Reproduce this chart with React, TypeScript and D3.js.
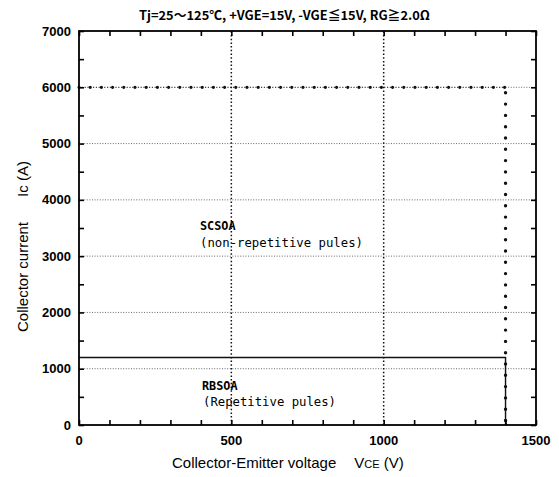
import * as d3 from "d3";
import { useEffect, useRef } from "react";

// axis ticks
const xMajor = [0, 500, 1000, 1500];
const yMajor = [0, 1000, 2000, 3000, 4000, 5000, 6000, 7000];
const xGrid = [500, 1000];
const yGrid = [1000, 2000, 3000, 4000, 5000];

// safe operating area boundaries (VCE in V, Ic in A)
const scsoaV = [0, 1400, 1400];
const scsoaI = [6000, 6000, 0];
const rbsoaV = [0, 1400, 1400];
const rbsoaI = [1200, 1200, 0];

const title = "Tj=25～125℃, +VGE=15V, -VGE≦15V, RG≧2.0Ω";

export default function App() {
    const ref = useRef<SVGSVGElement | null>(null);
    const width = 559;
    const height = 477;

    useEffect(() => {
        if (!ref.current) return;
        const svg = d3.select(ref.current);
        svg.selectAll("*").remove();

        const left = 79, right = 536, top = 31, bottom = 425;
        const x = d3.scaleLinear().domain([0, 1500]).range([left, right]);
        const y = d3.scaleLinear().domain([0, 7000]).range([bottom, top]);

        svg.append("rect").attr("width", width).attr("height", height).attr("fill", "#fff");

        // grid
        yGrid.forEach(v => {
            svg.append("line")
                .attr("x1", x(0)).attr("x2", x(1500))
                .attr("y1", y(v)).attr("y2", y(v))
                .attr("stroke", "#444").attr("stroke-width", 0.8)
                .attr("stroke-dasharray", "1 1.6");
        });
        xGrid.forEach(v => {
            svg.append("line")
                .attr("x1", x(v)).attr("x2", x(v))
                .attr("y1", y(0)).attr("y2", y(7000))
                .attr("stroke", "#111").attr("stroke-width", 1.5)
                .attr("stroke-dasharray", "1.5 2.2");
        });
        // 6000 grid beyond SCSOA corner
        svg.append("line")
            .attr("x1", x(scsoaV[1])).attr("x2", x(1500))
            .attr("y1", y(6000)).attr("y2", y(6000))
            .attr("stroke", "#444").attr("stroke-width", 0.8)
            .attr("stroke-dasharray", "1 1.6");

        // SCSOA: dash-dot horizontal, big dots vertical
        svg.append("line")
            .attr("x1", x(scsoaV[0])).attr("x2", x(scsoaV[1]))
            .attr("y1", y(scsoaI[0])).attr("y2", y(scsoaI[1]))
            .attr("stroke", "#111").attr("stroke-width", 1)
            .attr("stroke-dasharray", "1.2 1.6");
        svg.append("line")
            .attr("x1", x(scsoaV[0])).attr("x2", x(scsoaV[1]))
            .attr("y1", y(scsoaI[0])).attr("y2", y(scsoaI[1]))
            .attr("stroke", "#111").attr("stroke-width", 3.2)
            .attr("stroke-linecap", "round")
            .attr("stroke-dasharray", "0 11.2");
        svg.append("line")
            .attr("x1", x(scsoaV[1])).attr("x2", x(scsoaV[2]))
            .attr("y1", y(scsoaI[1]) + 5.5).attr("y2", y(scsoaI[2]))
            .attr("stroke", "#111").attr("stroke-width", 3.4)
            .attr("stroke-linecap", "round")
            .attr("stroke-dasharray", "0 11.3");

        // RBSOA solid
        const line = d3.line<number>()
            .x((_, i) => x(rbsoaV[i]))
            .y(d => y(d));
        svg.append("path")
            .attr("d", line(rbsoaI)!)
            .attr("fill", "none")
            .attr("stroke", "#111")
            .attr("stroke-width", 1.4);

        // ticks (inward)
        const bottomAxis = d3.axisBottom(x).tickValues(d3.range(0, 1501, 100)).tickSize(-5).tickFormat(() => "");
        const topAxis = d3.axisTop(x).tickValues(d3.range(0, 1501, 100)).tickSize(-5).tickFormat(() => "");
        const leftAxis = d3.axisLeft(y).tickValues(d3.range(0, 7001, 500)).tickSize(-5).tickFormat(() => "");
        const rightAxis = d3.axisRight(y).tickValues(d3.range(0, 7001, 500)).tickSize(-5).tickFormat(() => "");
        [
            [bottomAxis, `translate(0,${bottom})`],
            [topAxis, `translate(0,${top})`],
            [leftAxis, `translate(${left},0)`],
            [rightAxis, `translate(${right},0)`],
        ].forEach(([ax, tr]) => {
            const g = svg.append("g").attr("transform", tr as string).call(ax as any);
            g.select(".domain").remove();
            g.selectAll(".tick line").attr("stroke", "#000").attr("stroke-width", 1.6);
        });

        // frame
        svg.append("rect")
            .attr("x", left).attr("y", top)
            .attr("width", right - left).attr("height", bottom - top)
            .attr("fill", "none").attr("stroke", "#000").attr("stroke-width", 1.8);

        // tick labels
        const tickFont = "'Liberation Sans', Arial, sans-serif";
        xMajor.forEach(v => {
            svg.append("text")
                .attr("x", x(v)).attr("y", 445)
                .attr("text-anchor", "middle")
                .attr("font-family", tickFont).attr("font-weight", "bold")
                .attr("font-size", 13).attr("fill", "#000")
                .text(v);
        });
        yMajor.forEach(v => {
            svg.append("text")
                .attr("x", 71).attr("y", y(v) + 4.6)
                .attr("text-anchor", "end")
                .attr("font-family", tickFont).attr("font-weight", "bold")
                .attr("font-size", 13).attr("fill", "#000")
                .text(v);
        });

        // title
        svg.append("text")
            .attr("x", 139).attr("y", 20)
            .attr("font-family", "'Noto Sans CJK JP', sans-serif")
            .attr("font-weight", "bold").attr("font-size", 12.5)
            .attr("textLength", 291).attr("lengthAdjust", "spacingAndGlyphs")
            .attr("fill", "#000")
            .text(title);

        // axis titles
        const xt = svg.append("text")
            .attr("x", 172).attr("y", 468)
            .attr("font-family", tickFont).attr("font-size", 15).attr("fill", "#000");
        xt.append("tspan").text("Collector-Emitter voltage");
        xt.append("tspan").attr("dx", 18).text("V");
        xt.append("tspan").attr("font-size", 11).text("CE");
        xt.append("tspan").text(" (V)");

        const yt = svg.append("text")
            .attr("transform", `translate(28,332) rotate(-90)`)
            .attr("font-family", tickFont).attr("font-size", 15).attr("fill", "#000");
        yt.append("tspan").text("Collector current");
        yt.append("tspan").attr("dx", 25).text("Ic (A)");

        // annotations
        const mono = "'DejaVu Sans Mono', monospace";
        const note = (tx: number, ty: number, s: string, bold: boolean) =>
            svg.append("text")
                .attr("x", tx).attr("y", ty)
                .attr("font-family", mono).attr("font-size", 12)
                .attr("font-weight", bold ? "bold" : "normal")
                .attr("textLength", s.length * 7.5 - 2).attr("lengthAdjust", "spacingAndGlyphs")
                .attr("fill", "#000")
                .text(s);
        note(200, 230, "SCSOA", true);
        note(200, 247, "(non-repetitive pules)", false);
        note(202, 390, "RBSOA", true);
        note(203, 406, "(Repetitive pules)", false);
    }, []);

    return (
        <svg
            ref={ref}
            width={width}
            height={height}
            style={{ position: "absolute", left: 0, top: 0 }}
        />
    );
}
